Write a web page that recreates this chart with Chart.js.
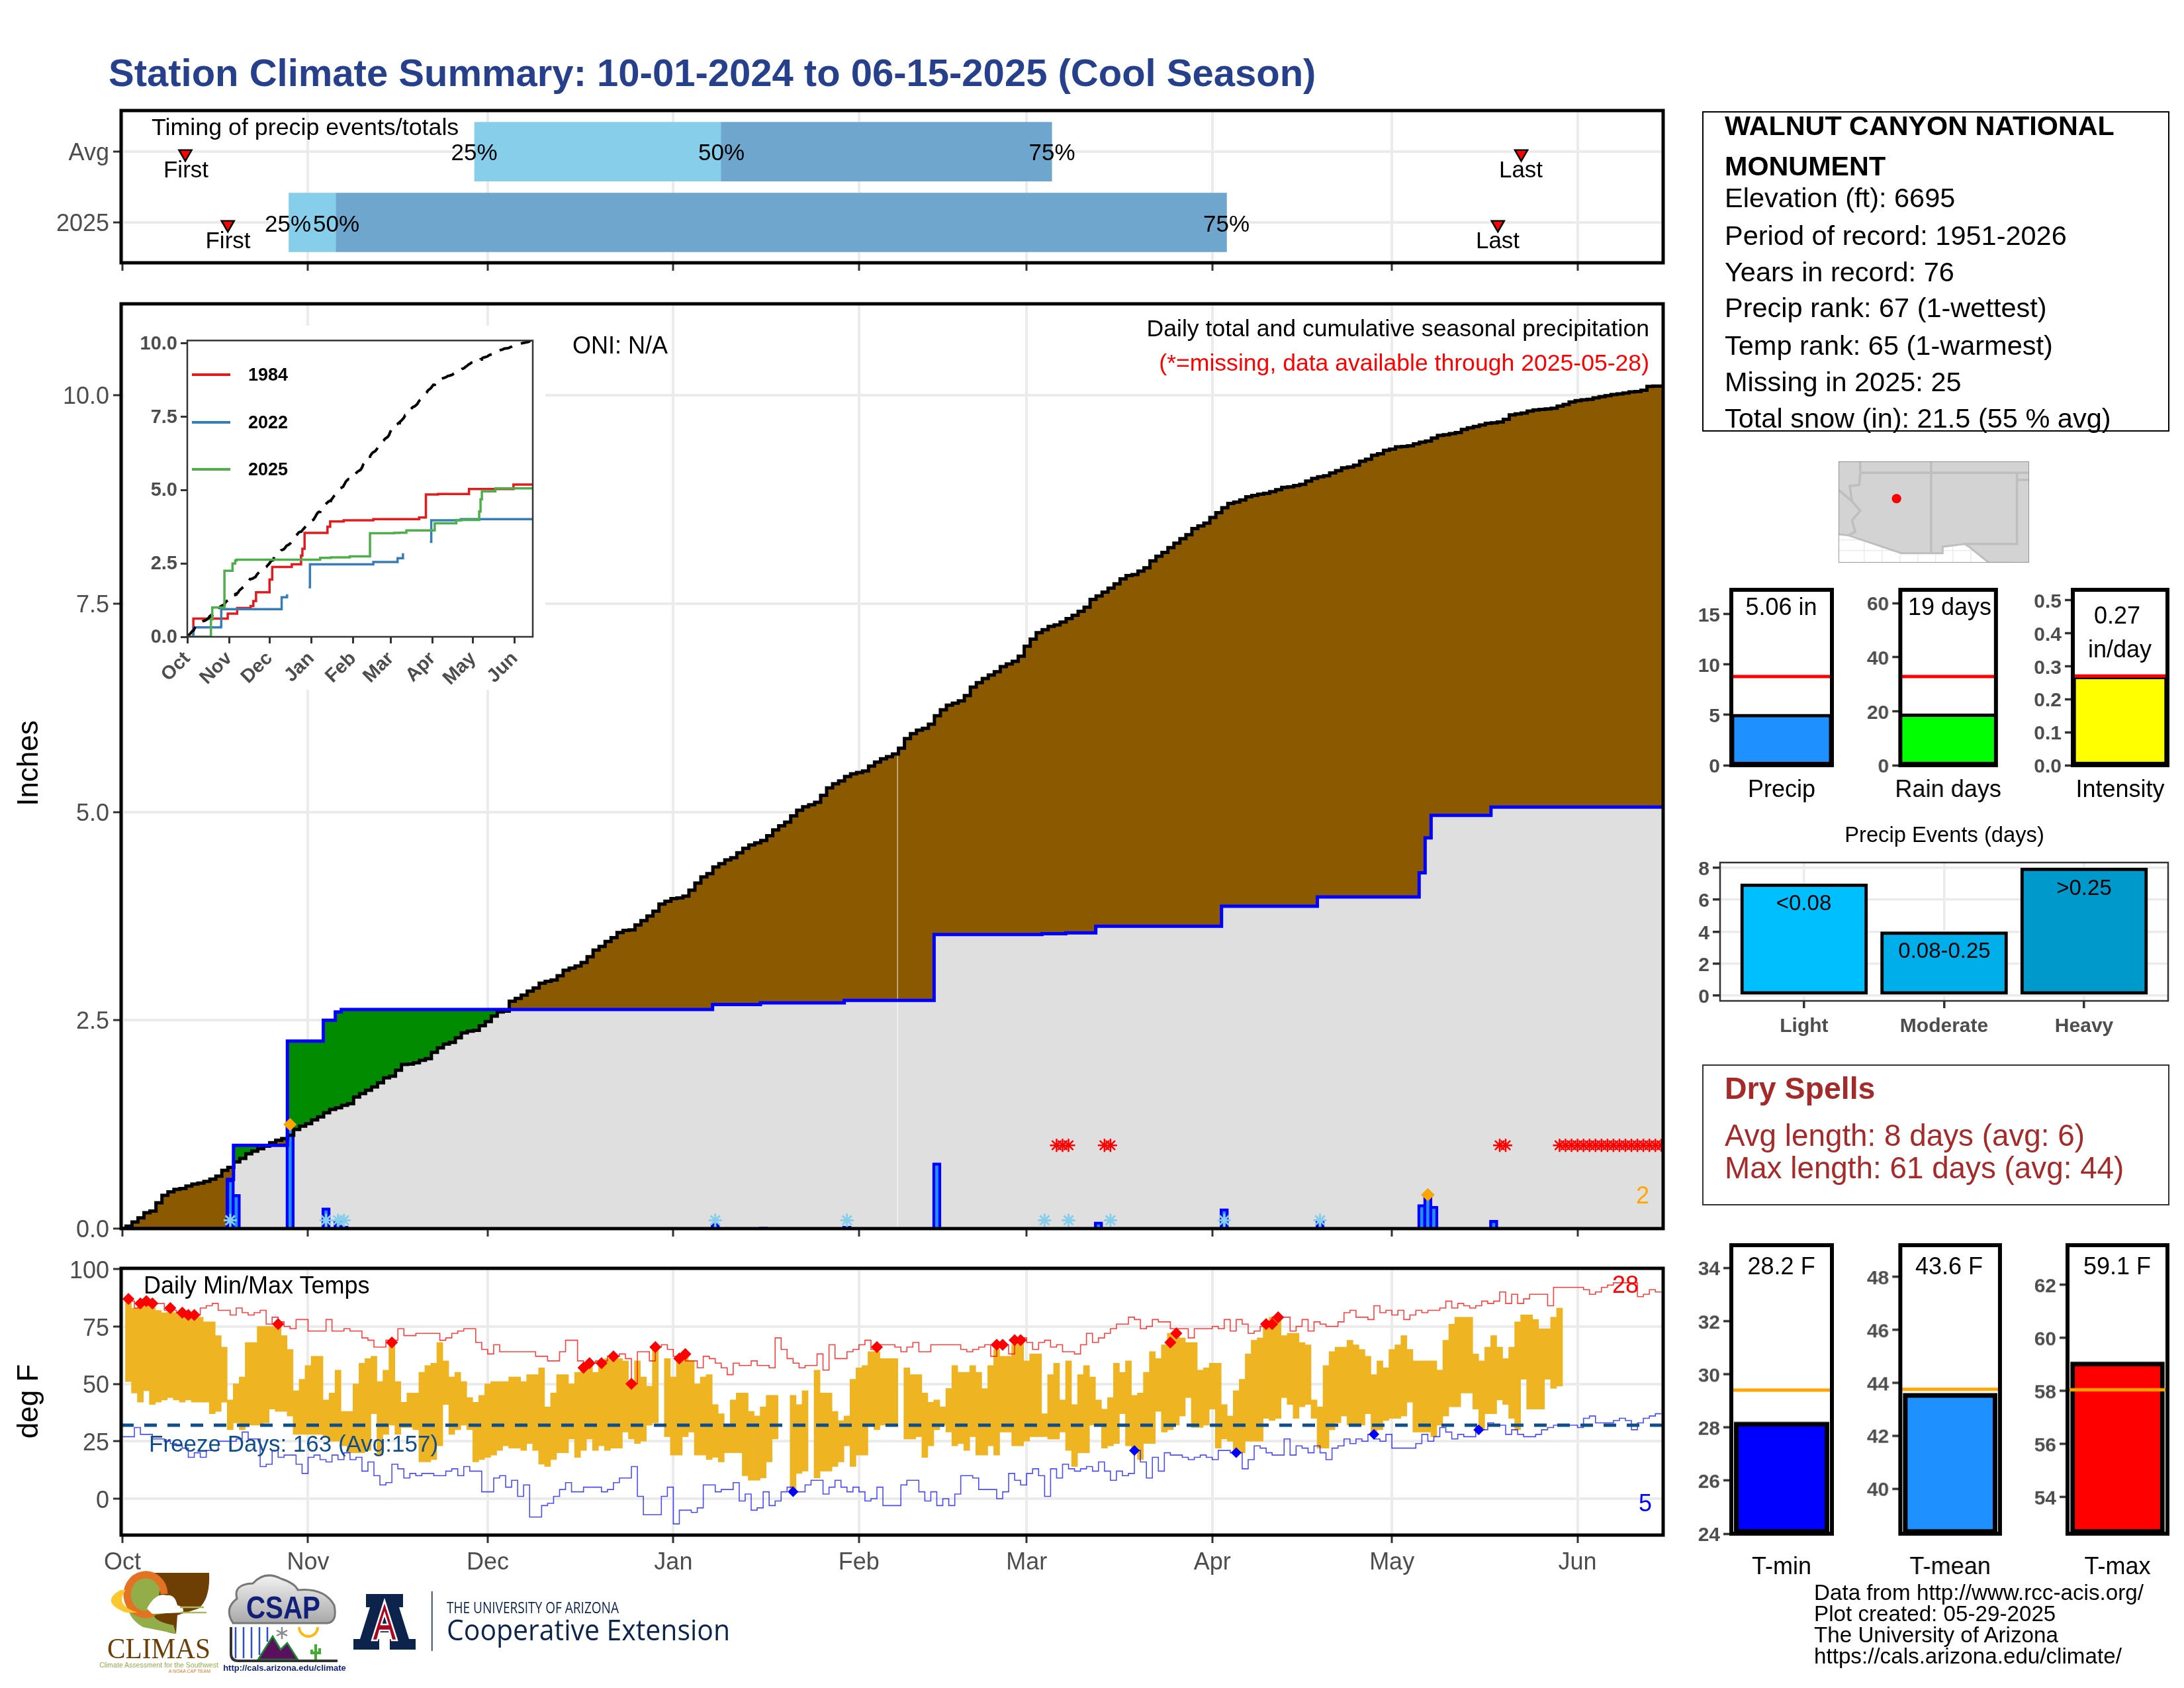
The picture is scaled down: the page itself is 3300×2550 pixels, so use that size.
<!DOCTYPE html>
<html><head><meta charset="utf-8">
<style>
html,body{margin:0;padding:0;background:#fff}
#page{position:relative;width:3300px;height:2550px;overflow:hidden;background:#fff;font-family:"Liberation Sans",Arial,sans-serif}
canvas{position:absolute;display:block}
.t{position:absolute;white-space:nowrap;line-height:1;z-index:10}
.b{position:absolute;box-sizing:border-box;background:#fff}
svg{position:absolute;z-index:9}
</style>
<script src="https://cdn.jsdelivr.net/npm/chart.js@4"></script>
</head><body><div id="page"></div>
<script>
// ---------- DATA ----------
const monthDays=[0,31,61,92,123,151,182,212,243];
const monthNames=['Oct','Nov','Dec','Jan','Feb','Mar','Apr','May','Jun'];
// average cumulative precipitation, one value per day (inches)
const avgCum=[.03,.08,.13,.19,.21,.31,.40,.44,.47,.48,.51,.535,.546,.567,.594,.63,.70,.735,.80,.843,.897,.93,.96,.99,1.03,1.06,1.08,1.12,1.19,1.23,1.26,1.305,1.34,1.39,1.43,1.45,1.48,1.50,1.58,1.62,1.66,1.70,1.75,1.81,1.83,1.90,1.97,1.975,1.99,2.02,2.04,2.115,2.17,2.215,2.235,2.29,2.35,2.37,2.38,2.435,2.485,2.55,2.60,2.61,
2.729,2.763,2.803,2.851,2.888,2.946,2.967,2.983,3.036,3.10,3.126,3.153,3.195,3.264,3.344,3.386,3.447,3.492,3.553,3.579,3.585,3.646,3.696,3.752,3.81,3.895,3.929,3.961,3.969,3.99,4.062,4.147,4.221,4.26,4.34,4.38,4.425,4.451,4.512,4.565,4.605,4.631,4.658,4.716,4.785,4.835,4.878,4.955,5.021,5.063,5.087,5.116,5.2,5.289,5.339,5.374,5.426,5.458,5.474,5.493,5.551,5.599,5.639,5.665,5.697,
5.766,5.882,5.941,5.983,6.004,6.055,6.155,6.227,6.282,6.306,6.335,6.399,6.5,6.553,6.603,6.645,6.685,6.746,6.778,6.81,6.871,6.99,7.075,7.154,7.189,7.229,7.247,7.281,7.321,7.361,7.409,7.459,7.552,7.594,7.639,7.687,7.74,7.798,7.838,7.851,7.891,7.931,8.016,8.071,8.116,8.175,8.228,8.281,8.328,8.402,8.434,8.469,8.535,8.593,8.652,8.705,8.72,8.747,8.784,8.80,8.815,8.825,8.845,
8.87,8.898,8.903,8.919,8.932,8.972,9.004,9.025,9.036,9.07,9.097,9.131,9.142,9.163,9.211,9.235,9.282,9.301,9.343,9.356,9.383,9.388,9.396,9.42,9.439,9.454,9.489,9.521,9.529,9.542,9.555,9.592,9.613,9.629,9.645,9.666,9.672,9.682,9.714,9.767,9.78,9.788,9.812,9.826,9.833,9.839,9.847,9.873,9.892,9.923,9.937,9.947,9.953,9.971,9.985,9.998,10.011,10.019,10.03,10.043,10.048,10.064,10.109,10.112,10.112];
// daily precipitation events of this season
const precipDays=[18,19,28,34,36,37,99,107,121,136,154,158,163,184,200,217,218,219,229];
const precipAmts=[.59,.41,1.25,.25,.10,.03,.06,.02,.03,.79,.01,.01,.08,.24,.11,.29,.42,.27,.10];
const snowDays=[18,34,36,37,99,121,154,158,165,184,200];
const missingDays=[156,157,158,164,165,230,231,240,241,242,243,244,245,246,247,248,249,250,251,252,253,254,255,256,257];
const gapDay=[129.45];
const maxEventDays=[28,218];
const maxEventVals=[1.25,.405];
// daily max / min of this season, position 1..240, null = missing
const obsMax=[87,83,85,86,85,82,81,83,81,81,80,80,79,77,77,71,66,43,50,53,68,68,75,75,75,76,71,65,47,52,58,62,62,43,46,56,38,38,50,59,61,62,51,56,68,51,42,46,46,55,58,59,68,60,53,55,51,44,42,45,50,51,51,51,53,53,51,54,54,57,40,46,54,54,50,55,56,59,55,60,61,62,61,60,50,60,53,49,65,null,61,53,61,62,60,50,53,54,41,37,32,43,46,46,38,36,40,45,45,null,null,45,41,47,null,56,46,
46,38,34,36,52,57,58,64,64,61,61,61,null,57,54,54,46,42,43,40,48,58,55,55,58,55,48,58,65,62,62,67,68,60,63,63,37,54,59,43,60,41,54,58,53,43,39,44,59,55,60,45,46,55,64,61,67,72,72,70,68,68,56,57,59,59,41,36,47,52,63,69,70,75,79,79,71,72,72,68,67,43,40,58,64,66,66,69,67,65,62,54,60,57,65,67,71,65,60,60,60,60,56,69,76,79,79,79,63,60,66,71,66,61,66,77,80,80,78,74,74,79,83];
const obsMin=[51,46,42,47,41,42,43,44,43,42,43,42,42,42,37,38,42,30,33,30,32,32,32,33,39,38,38,36,28,28,28,28,28,27,25,25,23,20,20,20,21,37,19,28,32,28,31,31,30,16,16,17,23,41,28,30,32,30,16,17,18,19,21,23,22,22,21,24,21,15,14,17,20,20,26,18,21,26,21,23,21,22,22,29,26,24,25,32,33,null,27,19,19,27,29,19,19,17,18,16,20,20,20,10,8,8,9,16,26,null,null,3,11,12,null,9,12,
12,14,16,23,14,19,19,32,30,32,32,32,null,26,26,27,18,23,30,32,29,23,24,21,27,19,19,23,19,29,29,23,23,25,27,27,27,26,26,29,21,14,20,20,32,32,22,23,24,37,23,21,17,24,24,38,29,30,32,36,44,31,31,32,39,22,26,25,20,20,25,25,25,35,34,35,44,41,35,40,41,35,22,22,30,33,36,32,32,32,37,28,30,34,35,35,36,42,29,29,29,27,32,36,40,40,46,46,39,30,37,37,43,41,35,30,52,39,39,39,52,48,49];
// record high / low lines, one value per day index 0..257
const recHigh=[87,86,83,85,85,85,85,82,82,81,80,80,80,83,84,85,82,82,80,83,81,80,81,82,76,79,77,75,74,78,78,73,73,73,78,73,73,74,73,73,70,69,66,66,69,69,74,71,71,72,72,72,72,69,70,72,73,74,74,68,65,63,67,64,64,64,64,64,64,62,62,60,60,64,69,69,60,58,59,60,60,62,62,63,61,50,64,64,60,66,67,65,62,63,60,60,57,62,61,59,57,54,59,58,58,60,58,58,57,70,65,61,59,57,58,58,63,56,
67,61,61,64,65,67,69,65,67,67,67,66,64,66,68,64,64,67,67,67,67,67,65,64,65,66,67,62,67,67,63,68,70,68,65,68,69,66,67,64,64,63,67,72,68,70,72,74,76,76,79,78,74,75,78,77,77,74,74,74,70,74,74,74,75,74,78,73,78,76,72,73,75,76,79,79,79,73,75,78,73,77,76,75,75,77,81,82,79,79,78,84,81,82,80,82,78,80,82,81,82,82,83,86,83,85,84,83,84,86,85,86,90,85,89,85,87,89,89,89,84,92,92,92,92,92,91,89,90,92,93,94,94,94,94,88,89,91,90,90];
const recLow=[27,27,31,28,28,26,26,25,24,23,22,18,20,18,21,21,25,25,25,26,29,26,26,14,15,21,18,19,19,15,11,18,19,17,16,19,17,20,17,18,12,16,10,6,7,15,13,9,11,10,11,11,10,10,12,13,10,14,12,12,3,3,9,10,5,8,1,6,-8,-8,-3,-2,1,4,7,3,3,5,5,5,3,4,7,9,9,14,1,-7,-7,-7,1,5,-11,-5,-5,-6,-4,6,6,3,4,4,7,-1,2,-5,-4,3,-3,-1,3,5,3,3,6,8,8,2,
5,8,5,3,5,3,-1,0,5,-3,-3,-3,6,8,8,3,-1,3,-3,0,-3,2,10,10,9,4,4,4,0,3,11,8,6,11,13,10,1,13,9,15,13,12,13,14,12,16,12,8,12,10,11,21,16,9,18,12,20,19,19,18,17,18,19,18,17,21,21,20,20,13,17,23,22,20,19,19,26,19,23,22,20,23,20,17,22,23,26,24,26,25,28,26,25,28,22,22,22,22,24,28,25,27,31,29,26,28,27,27,31,30,33,32,32,28,30,28,27,27,28,30,31,32,32,32,32,31,35,36,33,33,33,34,35,34,30,33,35,36,37,37];
const hotDays=[1,3,4,5,8,10,11,12,26,45,77,78,80,82,85,89,93,94,126,146,147,149,150,175,176,191,192,193];
const hotVals=[87,85,86,85,83,81,80,80,76,68,57,59,59,62,50,66,61,63,66,67,67,69,69,68,72,76,76,79];
const coldDays=[112,169,186,209,226.5];
const coldVals=[3,21,20,28,30];
const freezeLevel=32;
// timing bars (day index of the season)
const timingAvg=[58.8,100,155.2], timingCur=[27.8,35.7,184.4];
const firstDays=[10.5,17.6], lastDays=[233.6,229.7];
// inset years
const y1984X=[0,4.5,30,37,47,49,51,61,63,77.5,84.4,85.4,87,104,106,116,138,172,177,186,209,242,257];
const y1984Y=[0,.62,.79,.98,1.05,1.22,1.52,1.95,2.38,2.47,2.77,3.0,3.54,3.75,3.93,3.97,4.01,4.07,4.85,4.87,5.04,5.19,5.19];
const y2022X=[0,4.5,25,25.2,70,74,87,90,91,138,156,160,177,180,181,203,257];
const y2022Y=[0,.32,.36,.94,1.35,1.45,null,1.69,2.47,2.55,2.68,2.85,null,3.24,3.97,4.01,4.01];
// summary panels
const precipSum=[5.06,8.8], rainSum=[19,32.8], intensSum=[.27,.27];
const eventVals=[7,4,8], eventCats=['Light','Moderate','Heavy'], eventTags=['<0.08','0.08-0.25','>0.25'];
const tminSum=[28.2,29.4], tmeanSum=[43.6,43.75], tmaxSum=[59.1,58.05];
// map outlines, lon/lat
const landEdge=[[-115.58,32.65],[-114.86,32.56],[-111.14,31.3],[-108.24,31.3],[-108.24,31.76],[-106.68,31.95],[-106.38,31.76],[-104.98,30.63],[-102.14,30.6]];
const border37=[[-114.05,37],[-102.14,37]];
const borderUT=[[-114.05,37.85],[-114.05,37]];
const borderAZNM=[[-109.05,37.85],[-109.05,31.3]];
const borderNMTX=[[-103.0,37],[-103.0,31.95],[-106.68,31.95]];
const borderOK=[[-103,36.5],[-102.14,36.5]];
const borderRiver=[[-114.05,37],[-114.12,36.14],[-114.79,36.06],[-114.63,34.98],[-114.05,34.31],[-114.63,33.64],[-114.4,32.83],[-114.86,32.56]];
const borderCANV=[[-115.58,35.79],[-114.63,34.98]];
const station=[[-111.49,35.17]];

// ---------- HELPERS ----------
const page=document.getElementById('page');
const TICKC='#4D4D4D',FF='"Liberation Sans",Arial,sans-serif';
Chart.defaults.font.family=FF;
Chart.defaults.animation=false;
Chart.defaults.responsive=false;
Chart.defaults.devicePixelRatio=1;
Chart.defaults.plugins.legend.display=false;
Chart.defaults.plugins.tooltip.enabled=false;
Chart.register({id:'box',afterDraw(c,a,o){if(!o||!o.w)return;const r=c.chartArea,x=c.ctx;x.save();x.strokeStyle=o.c||'#000';x.lineWidth=o.w;x.strokeRect(r.left,r.top,r.right-r.left,r.bottom-r.top);x.restore();}});
function mk(rect,m,cfg,bg){
  const [x0,y0,x1,y1]=rect;
  const c=document.createElement('canvas');
  const W=x1-x0+m.l+m.r,H=y1-y0+m.t+m.b;
  c.width=W;c.height=H;c.style.left=(x0-m.l)+'px';c.style.top=(y0-m.t)+'px';
  c.style.width=W+'px';c.style.height=H+'px';
  if(bg)c.style.background=bg;
  page.appendChild(c);
  const o=cfg.options=cfg.options||{};
  o.layout={autoPadding:false,padding:{top:m.t,right:m.r,left:0,bottom:0}};
  o.scales.x.afterFit=s=>{s.height=m.b};
  o.scales.y.afterFit=s=>{s.width=m.l};
  for(const k of ['x','y']){o.scales[k].offset=false;o.scales[k].grid=o.scales[k].grid||{};o.scales[k].grid.offset=false;}
  return new Chart(c.getContext('2d'),cfg);
}
function txt(s,x,y,opt={}){
  const d=document.createElement('div');d.className='t';d.textContent=s;
  const a=opt.a||'start';const tx=a==='start'?'0':a==='middle'?'-50%':'-100%';
  d.style.left=x+'px';d.style.top=y+'px';
  d.style.transform=`translate(${tx},-50%)`+(opt.rot?` rotate(${opt.rot}deg)`:'');
  d.style.fontSize=(opt.s||36)+'px';d.style.color=opt.c||'#000';
  if(opt.b)d.style.fontWeight='bold';
  if(opt.f)d.style.fontFamily=opt.f;
  page.appendChild(d);return d;
}
const XMIN=-.22,XMAX=257.3;
const monthTicks=s=>{s.ticks=monthDays.map(v=>({value:v}))};
function monthAxis(labels,font){
  return {type:'linear',min:XMIN,max:XMAX,afterBuildTicks:monthTicks,
    grid:{color:'#EBEBEB',lineWidth:4,tickColor:'#333',tickLength:12,tickWidth:3},border:{display:false},
    ticks:{autoSkip:false,maxRotation:0,minRotation:0,padding:8,color:TICKC,font:{size:font||36},
      callback:v=>labels?monthNames[monthDays.indexOf(v)]:''}};
}
const stepAt=(xs,ys,x)=>{let v=0;for(let i=0;i<xs.length;i++){if(xs[i]<=x)v=ys[i];else break;}return v;};

// derived step tables from the read values
const avgX=avgCum.map((_,i)=>i+.6);
const obsX=[],obsY=[];let run=0;
precipDays.forEach((d,i)=>{run+=precipAmts[i];obsX.push(d-.45);obsY.push(+run.toFixed(2));});
const allX=[...new Set([XMIN,XMAX,...avgX,...obsX])].sort((a,b)=>a-b);
const avgSer=allX.map(x=>({x,y:stepAt(avgX,avgCum,x)}));
const obsSer=allX.map(x=>({x,y:stepAt(obsX,obsY,x)}));
const lowSer=allX.map((x,i)=>({x,y:Math.min(avgSer[i].y,obsSer[i].y)}));
const zip=(xs,ys)=>xs.map((x,i)=>({x,y:ys[i]}));
const pts=a=>a.map(p=>({x:p[0],y:p[1]}));

// ---------- TITLE ----------
txt('Station Climate Summary: 10-01-2024 to 06-15-2025 (Cool Season)',164,110,{s:58,b:1,c:'#27408B'});

// ---------- TIMING PANEL ----------
mk([183,167,2513,397],{l:120,t:30,r:40,b:30},{type:'bar',data:{datasets:[
  {label:'25-50',data:[{y:1,x:[timingAvg[0],timingAvg[1]]},{y:2,x:[timingCur[0],timingCur[1]]}],backgroundColor:'#87CEEB',barThickness:89,grouped:false,order:5},
  {label:'50-75',data:[{y:1,x:[timingAvg[1],timingAvg[2]]},{y:2,x:[timingCur[1],timingCur[2]]}],backgroundColor:'#6EA6CD',barThickness:89,grouped:false,order:4},
  {type:'scatter',indexAxis:'x',label:'First',data:[{x:firstDays[0],y:1.03},{x:firstDays[1],y:2.03}],pointStyle:'triangle',rotation:180,radius:11,backgroundColor:'#FF0000',borderColor:'#000',borderWidth:2.5,order:1},
  {type:'scatter',indexAxis:'x',label:'Last',data:[{x:lastDays[0],y:1.03},{x:lastDays[1],y:2.03}],pointStyle:'triangle',rotation:180,radius:11,backgroundColor:'#FF0000',borderColor:'#000',borderWidth:2.5,order:1}
]},options:{indexAxis:'y',plugins:{box:{w:5}},scales:{
  x:monthAxis(false),
  y:{type:'linear',reverse:true,min:.42,max:2.57,afterBuildTicks:s=>{s.ticks=[{value:1},{value:2}]},
    grid:{color:'#EBEBEB',lineWidth:4,tickColor:'#333',tickLength:12,tickWidth:3},border:{display:false},
    ticks:{color:TICKC,font:{size:36},padding:6,labelOffset:3,callback:v=>v===1?'Avg':'2025'}}}}});
txt('Timing of precip events/totals',229,193,{s:35.8});
[['25%',716.6,229],['50%',1090,229],['75%',1589.5,229],['25%',435,337],['50%',508,337],['75%',1853,337]].forEach(a=>txt(a[0],a[1],a[2],{a:'middle',s:35}));
[['First',281,255],['Last',2298,255],['First',344.5,362],['Last',2263,362]].forEach(a=>txt(a[0],a[1],a[2],{a:'middle',s:35}));

// ---------- MAIN CUMULATIVE PANEL ----------
const line=(data,color,w,order,extra)=>Object.assign({type:'line',data,borderColor:color,borderWidth:w,pointRadius:0,stepped:'before',fill:false,order},extra||{});
mk([183,459,2513,1856],{l:120,t:30,r:40,b:30},{type:'bar',data:{datasets:[
  line(avgSer,'#8B5A00',0,20,{fill:'origin',backgroundColor:'#8B5A00',label:'avg-fill'}),
  line(obsSer,'#008B00',0,19,{fill:'origin',backgroundColor:'#008B00',label:'obs-fill'}),
  line(lowSer,'#DFDFDF',0,18,{fill:'origin',backgroundColor:'#DFDFDF',label:'low-fill'}),
  {type:'line',data:[{x:gapDay[0],y:0},{x:gapDay[0],y:stepAt(avgX,avgCum,gapDay[0])}],borderColor:'rgba(255,255,255,.6)',borderWidth:1.5,pointRadius:0,order:17},
  {label:'daily',data:zip(precipDays,precipAmts),backgroundColor:'#1E90FF',borderColor:'#0000FF',borderWidth:4.5,barThickness:13,grouped:false,order:16},
  line(avgSer,'#000',5,15,{label:'avg'}),
  line(obsSer,'#0000FF',5,14,{label:'obs'}),
  {type:'scatter',label:'missing',data:missingDays.map(d=>({x:d,y:1})),pointStyle:'star',radius:10,borderColor:'#FF0000',borderWidth:2.5,order:3},
  {type:'scatter',label:'snow',data:snowDays.map(d=>({x:d,y:.1})),pointStyle:'star',radius:10,borderColor:'#87CEEB',borderWidth:3,order:3},
  {type:'scatter',label:'max',data:zip(maxEventDays,maxEventVals),pointStyle:'rectRot',radius:10,backgroundColor:'#FFA500',order:2}
]},options:{plugins:{box:{w:5}},scales:{
  x:monthAxis(false),
  y:{type:'linear',min:0,max:11.1,afterBuildTicks:s=>{s.ticks=[0,2.5,5,7.5,10].map(v=>({value:v}))},
    grid:{color:'#EBEBEB',lineWidth:4,tickColor:'#333',tickLength:12,tickWidth:3},border:{display:false},
    ticks:{color:TICKC,font:{size:36},padding:6,labelOffset:3,callback:v=>v.toFixed(1)}}}}});
txt('Inches',42,1153,{a:'middle',s:44,rot:-90});
txt('ONI: N/A',865,522);
txt('Daily total and cumulative seasonal precipitation',2492,497,{a:'end',s:35.6});
txt('(*=missing, data available through 2025-05-28)',2492,549,{a:'end',c:'#FF0000',s:35.6});
txt('2',2482,1806,{a:'middle',c:'#FFA500'});

// ---------- INSET ----------
mk([283,511.6,805,961.6],{l:95,t:20,r:19,b:80},{type:'line',data:{datasets:[
  line(avgSer,'#000',4,2,{stepped:false,borderDash:[20,14]}),
  line(zip(y1984X,y1984Y),'#E41A1C',3.5,4),
  line(zip(y2022X,y2022Y),'#377EB8',3.5,3,{spanGaps:false}),
  line(obsSer,'#4DAF4A',3.5,1)
]},options:{plugins:{box:{w:2.5,c:'#333'}},scales:{
  x:{type:'linear',min:0,max:256.3,afterBuildTicks:monthTicks,grid:{display:true,drawOnChartArea:false,tickColor:'#333',tickLength:10,tickWidth:3},border:{display:false},
     ticks:{autoSkip:false,minRotation:45,maxRotation:45,padding:6,color:TICKC,font:{size:29,weight:'bold'},callback:v=>monthNames[monthDays.indexOf(v)]}},
  y:{type:'linear',min:0,max:10.1,afterBuildTicks:s=>{s.ticks=[0,2.5,5,7.5,10].map(v=>({value:v}))},grid:{display:true,drawOnChartArea:false,tickColor:'#333',tickLength:10,tickWidth:3},border:{display:false},
     ticks:{color:TICKC,padding:5,labelOffset:1,font:{size:29,weight:'bold'},callback:v=>v.toFixed(1)}}}}},'#fff');
[['1984','#E41A1C',565.5],['2022','#377EB8',637.5],['2025','#4DAF4A',709.4]].forEach(a=>{
  const k=document.createElement('div');k.style.cssText=`position:absolute;left:290px;top:${a[2]-2}px;width:58px;height:4px;background:${a[1]};z-index:9`;page.appendChild(k);
  txt(a[0],375,a[2],{s:27,b:1});
});

// ---------- TEMPERATURE PANEL ----------
const obsBars=[];obsMax.forEach((v,i)=>{if(v!==null)obsBars.push({x:i+1,y:[obsMin[i],v]})});
mk([183,1916,2513,2319],{l:120,t:30,r:40,b:60},{type:'bar',data:{datasets:[
  {label:'range',data:obsBars,backgroundColor:'#EEB422',barThickness:9.05,grouped:false,order:10},
  line(recHigh.map((y,x)=>({x,y})),'rgba(255,0,0,.75)',1.6,8,{label:'recHigh'}),
  line(recLow.map((y,x)=>({x,y})),'rgba(0,0,255,.7)',1.6,8,{label:'recLow'}),
  {type:'line',label:'freeze',data:[{x:XMIN,y:freezeLevel},{x:XMAX,y:freezeLevel}],borderColor:'#104E8B',borderWidth:5,borderDash:[19,16],pointRadius:0,order:6},
  {type:'scatter',label:'hot',data:zip(hotDays,hotVals),pointStyle:'rectRot',radius:9,backgroundColor:'#FF0000',order:3},
  {type:'scatter',label:'cold',data:zip(coldDays,coldVals),pointStyle:'rectRot',radius:8,backgroundColor:'#0000FF',order:3}
]},options:{plugins:{box:{w:5}},scales:{
  x:monthAxis(true),
  y:{type:'linear',min:-15.85,max:100.3,afterBuildTicks:s=>{s.ticks=[0,25,50,75,100].map(v=>({value:v}))},
    grid:{color:'#EBEBEB',lineWidth:4,tickColor:'#333',tickLength:12,tickWidth:3},border:{display:false},
    ticks:{color:TICKC,font:{size:36},padding:6,labelOffset:4}}}}});
txt('deg F',42,2117,{a:'middle',s:44,rot:-90});
txt('Daily Min/Max Temps',217,1942);
txt('Freeze Days: 163 (Avg:157)',225,2180,{c:'#104E8B',s:35});
txt('28',2456,1941,{a:'middle',c:'#FF0000'});
txt('5',2486,2271,{a:'middle',c:'#0000FF'});

// ---------- INFO BOX ----------
const info=document.createElement('div');info.className='b';info.style.cssText='left:2572px;top:168px;width:706px;height:484px;border:2.5px solid #000';page.appendChild(info);
txt('WALNUT CANYON NATIONAL',2606,191,{s:41.3,b:1});
txt('MONUMENT',2606,252,{s:41.3,b:1});
[['Elevation (ft): 6695',299],['Period of record: 1951-2026',356],['Years in record: 76',411],['Precip rank: 67 (1-wettest)',465],['Temp rank: 65 (1-warmest)',522],['Missing in 2025: 25',577],['Total snow (in): 21.5 (55 % avg)',632]].forEach(a=>txt(a[0],2606,a[1],{s:41.5}));

// ---------- MAP ----------
mk([2778,697,3066,850],{l:0,t:0,r:0,b:0},{type:'line',data:{datasets:[
  {data:pts(landEdge),borderColor:'#BEBEBE',borderWidth:3,pointRadius:0,fill:'end',backgroundColor:'#D3D3D3',order:9},
  ...[border37,borderUT,borderAZNM,borderNMTX,borderOK,borderRiver,borderCANV].map(b=>({data:pts(b),borderColor:'#BEBEBE',borderWidth:3.5,pointRadius:0,order:5})),
  {type:'scatter',data:pts(station),pointStyle:'circle',radius:7,backgroundColor:'#FF0000',order:1}
]},options:{plugins:{box:{w:1.5,c:'#7F7F7F'}},scales:{
  x:{type:'linear',min:-115.58,max:-102.14,grid:{color:'#EBEBEB',lineWidth:1.5,drawTicks:false},border:{display:false},ticks:{display:false,stepSize:1.25}},
  y:{type:'linear',min:30.63,max:37.81,grid:{color:'#EBEBEB',lineWidth:1.5,drawTicks:false},border:{display:false},ticks:{display:false,stepSize:.75}}}}});

// ---------- SMALL SUMMARY BARS ----------
function sumBar(rect,name,val,avg,lo,hi,yTicks,fmt,fill,avgColor,barW,lineW,labPad){
  const w=rect[2]-rect[0];
  mk(rect,{l:90,t:30,r:20,b:70},{type:'bar',data:{datasets:[
    {data:[{x:.5,y:[lo,val]}],backgroundColor:fill,borderColor:'#000',borderWidth:lineW,borderSkipped:false,barThickness:w-barW,grouped:false,order:3},
    {type:'line',data:[{x:0,y:avg},{x:1,y:avg}],borderColor:avgColor,borderWidth:5,pointRadius:0,order:1}
  ]},options:{plugins:{box:{w:6}},scales:{
    x:{type:'linear',min:0,max:1,afterBuildTicks:s=>{s.ticks=[{value:.5}]},grid:{display:false},border:{display:false},
       ticks:{color:'#000',padding:labPad,font:{size:36},maxRotation:0,callback:()=>name}},
    y:{type:'linear',min:lo,max:hi,afterBuildTicks:s=>{s.ticks=yTicks.map(v=>({value:v}))},grid:{display:true,drawOnChartArea:false,tickColor:'#333',tickLength:12,tickWidth:3.5},border:{display:false},
       ticks:{color:TICKC,padding:5,labelOffset:3,font:{size:30,weight:'bold'},callback:fmt}}}}});
}
const int=v=>String(v),fix1=v=>v.toFixed(1);
sumBar([2615.5,891,2768,1156],'Precip',precipSum[0],precipSum[1],0,17.4,[0,5,10,15],int,'#1E90FF','#FF0000',0,5,8);
sumBar([2871,891,3021.5,1156],'Rain days',rainSum[0],rainSum[1],0,64.9,[0,20,40,60],int,'#00FF00','#FF0000',0,5,8);
sumBar([3132,891,3275,1156],'Intensity',intensSum[0],intensSum[1],0,.531,[0,.1,.2,.3,.4,.5],fix1,'#FFFF00','#FF0000',0,5,8);
txt('5.06 in',2691.6,917,{a:'middle'});
txt('19 days',2946,917,{a:'middle'});
txt('0.27',3199,930,{a:'middle'});
txt('in/day',3203,981,{a:'middle'});

sumBar([2615.5,1881,2768,2316.6],'T-min',tminSum[0],tminSum[1],24,34.85,[24,26,28,30,32,34],int,'#0000FF','#FFA500',9,7,21);
sumBar([2871,1881,3021.5,2316.6],'T-mean',tmeanSum[0],tmeanSum[1],38.3,49.19,[40,42,44,46,48],int,'#1E90FF','#FFA500',9,7,21);
sumBar([3124,1881,3275,2316.6],'T-max',tmaxSum[0],tmaxSum[1],52.62,63.5,[54,56,58,60,62],int,'#FF0000','#FFA500',9,7,21);
txt('28.2 F',2691.6,1913,{a:'middle'});
txt('43.6 F',2945,1913,{a:'middle'});
txt('59.1 F',3199,1913,{a:'middle'});

// ---------- PRECIP EVENTS ----------
txt('Precip Events (days)',2938,1261,{a:'middle',s:32.7});
mk([2599,1303,3276,1512],{l:80,t:30,r:20,b:70},{type:'bar',data:{datasets:[
  {data:eventVals.map((v,i)=>({x:i+1,y:v})),backgroundColor:['#00BFFF','#00AFEA','#0099CC'],borderColor:'#000',borderWidth:5,borderSkipped:false,barThickness:192,grouped:false}
]},options:{plugins:{box:{w:2.5,c:'#333'}},scales:{
  x:{type:'linear',min:.4,max:3.6,afterBuildTicks:s=>{s.ticks=[1,2,3].map(v=>({value:v}))},grid:{color:'#EBEBEB',lineWidth:3.5,tickColor:'#333',tickLength:11,tickWidth:3.5},border:{display:false},
     ticks:{color:TICKC,padding:10,font:{size:30,weight:'bold'},maxRotation:0,callback:v=>eventCats[v-1]}},
  y:{type:'linear',min:-.33,max:8.33,afterBuildTicks:s=>{s.ticks=[0,1,2,3,4,5,6,7,8].map(v=>({value:v}))},
     grid:{color:'#EBEBEB',lineWidth:c=>c.tick&&c.tick.value%2?1.8:3.5,tickColor:c=>c.tick&&c.tick.value%2?'rgba(0,0,0,0)':'#333',tickLength:11,tickWidth:3.5},border:{display:false},
     ticks:{color:TICKC,padding:5,labelOffset:3,font:{size:30,weight:'bold'},callback:v=>v%2?'':String(v)}}}}});
txt(eventTags[0],2725.5,1363,{a:'middle',s:33});
txt(eventTags[1],2938,1435,{a:'middle',s:33});
txt(eventTags[2],3149,1340,{a:'middle',s:33});

// ---------- DRY SPELLS ----------
const dry=document.createElement('div');dry.className='b';dry.style.cssText='left:2572px;top:1608px;width:706px;height:213px;border:2px solid #333';page.appendChild(dry);
txt('Dry Spells',2606,1644,{s:46.5,b:1,c:'#A52A2A'});
txt('Avg length: 8 days (avg: 6)',2606,1716,{s:45.8,c:'#A52A2A'});
txt('Max length: 61 days (avg: 44)',2606,1765,{s:45.8,c:'#A52A2A'});

// ---------- CREDITS ----------
['Data from http://www.rcc-acis.org/','Plot created: 05-29-2025','The University of Arizona','https://cals.arizona.edu/climate/'].forEach((s,i)=>txt(s,2741,2406+i*32,{s:33.2}));

// ---------- LOGOS ----------
const logos=document.createElementNS('http://www.w3.org/2000/svg','svg');
logos.setAttribute('width','3300');logos.setAttribute('height','2550');logos.style.left='0';logos.style.top='0';
logos.innerHTML=`
<path d="M225 2376 L316 2376 Q318 2415 300 2430 L268 2440 L266 2468 Q240 2465 215 2445Z" fill="#6E3F05"/>
<path d="M228 2376 Q190 2395 190 2415 Q192 2445 216 2458 L266 2468 L262 2455 Q235 2450 232 2440 L258 2436 L262 2420 L240 2410 Q248 2385 228 2376Z" fill="#93AD48"/>
<path d="M248 2408 A28 30 0 1 0 232 2436" fill="none" stroke="#E37222" stroke-width="11"/>
<path d="M222 2430 Q235 2405 252 2410 Q264 2408 268 2425 Q280 2428 276 2436 L230 2438Z" fill="#fff"/>
<path d="M182 2402 Q150 2420 190 2436 L208 2436 Q172 2425 190 2402Z" fill="#FDC82F"/>
<path d="M272 2428H308 M272 2436H312" stroke="#A8B85E" stroke-width="2.5"/>
<text x="240" y="2505" text-anchor="middle" font-family="Liberation Serif" font-size="44" fill="#6E3F05" textLength="156" lengthAdjust="spacingAndGlyphs">CLIMAS</text>
<text x="240" y="2519" text-anchor="middle" font-family="Liberation Sans" font-size="10.5" fill="#93AD48">Climate Assessment for the Southwest</text>
<text x="318" y="2527" text-anchor="end" font-family="Liberation Sans" font-size="7" fill="#E37222">A NOAA CAP TEAM</text>
<defs><linearGradient id="cg" x1="0" y1="0" x2="0" y2="1"><stop offset="0" stop-color="#F2F2F2"/><stop offset="1" stop-color="#A8A8A8"/></linearGradient></defs>
<path d="M352 2452 Q338 2430 358 2415 Q352 2393 382 2392 Q400 2372 425 2385 Q446 2392 450 2402 Q490 2398 505 2425 Q510 2450 495 2452Z" fill="url(#cg)" stroke="#777" stroke-width="3"/>
<text x="428" y="2445" text-anchor="middle" font-family="Liberation Sans" font-weight="bold" font-size="48" fill="#101F78" textLength="112" lengthAdjust="spacingAndGlyphs">CSAP</text>
<path d="M356 2458V2505M368 2458V2505M380 2458V2505M392 2458V2500M404 2458V2480" stroke="#2B4FD0" stroke-width="2.5"/>
<path d="M390 2507 L412 2472 L424 2492 L434 2482 L450 2507Z" fill="#5A0F5F" stroke="#178A2E" stroke-width="2.5"/>
<path d="M349 2458V2498Q349 2509 360 2509H510" stroke="#333" stroke-width="4" fill="none"/>
<path d="M426 2458V2476M418 2463L434 2471M418 2471L434 2463" stroke="#8A8A8A" stroke-width="2.5"/>
<path d="M452 2458 A14 14 0 0 0 480 2458" fill="none" stroke="#FDB813" stroke-width="4"/>
<path d="M477 2484V2507M471 2492V2497H483V2490" stroke="#3FAE2A" stroke-width="4" fill="none"/>
<text x="430" y="2524" text-anchor="middle" font-family="Liberation Sans" font-weight="bold" font-size="13" fill="#101F78">http://cals.arizona.edu/climate</text>
<path d="M553 2408H609V2428H603L618 2476H628V2492H589V2476H595L592 2466H570L567 2476H573V2492H534V2476H544L559 2428H553Z" fill="#0C234B"/>
<path d="M581 2418L600 2478H592L588 2463H574L570 2478H562Z M581 2438L576 2454H586Z" fill="#AB0520" fill-rule="evenodd" stroke="#fff" stroke-width="2.5"/>
<rect x="652" y="2404" width="1.5" height="90" fill="#0C234B"/>
<text x="675" y="2437" font-family="Open Sans" font-size="24.5" fill="#0C234B" textLength="260" lengthAdjust="spacingAndGlyphs">THE UNIVERSITY OF ARIZONA</text>
<text x="675" y="2478" font-family="Open Sans" font-size="44" fill="#0C234B" textLength="428" lengthAdjust="spacingAndGlyphs">Cooperative Extension</text>`;
page.appendChild(logos);
</script></body></html>
